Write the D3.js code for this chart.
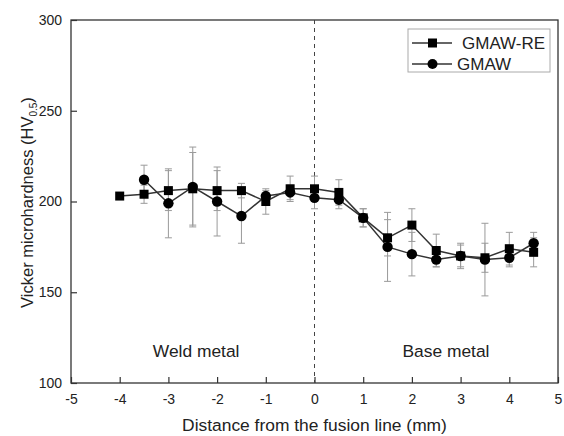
<!DOCTYPE html>
<html>
<head>
<meta charset="utf-8">
<script src="https://cdn.jsdelivr.net/npm/d3@7"></script>
<style>
  body { margin: 0; background: #fff; }
  text { font-family: "Liberation Sans", Arial, sans-serif; fill: #222; }
</style>
</head>
<body>
<div class="container"></div>
<script>
// distance from the fusion line (mm)
const distRE = [-4, -3.5, -3, -2.5, -2, -1.5, -1, -0.5, 0, 0.5, 1, 1.5, 2, 2.5, 3, 3.5, 4, 4.5];
const hvRE   = [203, 204, 206, 207, 206, 206, 200, 207, 207, 205, 191, 180, 187, 173, 170, 169, 174, 172];
const errRE  = [0, 5, 11, 20, 11, 4, 7, 7, 7, 7, 5, 10, 9, 9, 7, 8, 9, 8];

const distG = [-3.5, -3, -2.5, -2, -1.5, -1, -0.5, 0, 0.5, 1, 1.5, 2, 2.5, 3, 3.5, 4, 4.5];
const hvG   = [212, 199, 208, 200, 192, 203, 205, 202, 201, 191, 175, 171, 168, 170, 168, 169, 177];
const errG  = [8, 19, 22, 19, 15, 3, 4, 6, 5, 5, 19, 12, 4, 6, 20, 5, 6];

const xTicks = [-5, -4, -3, -2, -1, 0, 1, 2, 3, 4, 5];
const yTicks = [100, 150, 200, 250, 300];
const seriesNames = ["GMAW-RE", "GMAW"];
const regionLabels = ["Weld metal", "Base metal"];
const regionPos = [-2.43, 2.7];

const width = 564, height = 436;
const margin = { top: 20, right: 6, bottom: 53, left: 71 };

const svg = d3.select(".container").append("svg")
  .attr("width", width)
  .attr("height", height);

const x = d3.scaleLinear().domain([-5, 5]).range([margin.left, width - margin.right]);
const y = d3.scaleLinear().domain([100, 300]).range([height - margin.bottom, margin.top]);

const axisColor = "#333";
const hyphen = d => String(d); // plain hyphen-minus like the original

// frame
svg.append("rect")
  .attr("x", x(-5)).attr("y", y(300))
  .attr("width", x(5) - x(-5)).attr("height", y(100) - y(300))
  .attr("fill", "none").attr("stroke", axisColor).attr("stroke-width", 1.3);

// x axis, ticks point inward
const gx = svg.append("g")
  .attr("transform", `translate(0,${y(100)})`)
  .call(d3.axisBottom(x).tickValues(xTicks).tickSize(-6).tickSizeOuter(0).tickPadding(11).tickFormat(hyphen));
gx.select(".domain").remove();
gx.selectAll("line").attr("stroke", axisColor).attr("stroke-width", 1.2);
gx.selectAll("text").attr("font-size", 14).attr("fill", "#222")
  .attr("font-family", "Liberation Sans, Arial, sans-serif");

// y axis
const gy = svg.append("g")
  .attr("transform", `translate(${x(-5)},0)`)
  .call(d3.axisLeft(y).tickValues(yTicks).tickSize(-6).tickSizeOuter(0).tickPadding(9).tickFormat(hyphen));
gy.select(".domain").remove();
gy.selectAll("line").attr("stroke", axisColor).attr("stroke-width", 1.2);
gy.selectAll("text").attr("font-size", 14).attr("fill", "#222")
  .attr("font-family", "Liberation Sans, Arial, sans-serif");

// axis titles
svg.append("text")
  .attr("x", x(0)).attr("y", 431)
  .attr("text-anchor", "middle").attr("font-size", 17.4)
  .text("Distance from the fusion line (mm)");

const yt = svg.append("text")
  .attr("transform", `translate(33,${y(200) + 1}) rotate(-90)`)
  .attr("text-anchor", "middle").attr("font-size", 16.5);
yt.append("tspan").text("Vicker microhardness (HV");
yt.append("tspan").attr("font-size", 10).attr("dy", 4).text("0.5");
yt.append("tspan").attr("dy", -4).text(")");

// fusion line
svg.append("line")
  .attr("x1", x(0)).attr("x2", x(0))
  .attr("y1", y(300)).attr("y2", y(100))
  .attr("stroke", "#444").attr("stroke-width", 1).attr("stroke-dasharray", "4,4");

// region labels
svg.selectAll(".region")
  .data(regionLabels)
  .enter().append("text")
  .attr("x", (d, i) => x(regionPos[i]))
  .attr("y", y(114.3))
  .attr("text-anchor", "middle").attr("font-size", 17.4)
  .text(d => d);

const reData = distRE.map((d, i) => ({ x: d, v: hvRE[i], e: errRE[i] }));
const gData = distG.map((d, i) => ({ x: d, v: hvG[i], e: errG[i] }));

// error bars
function errorBars(data) {
  const g = svg.append("g").attr("stroke", "#9a9a9a").attr("stroke-width", 1);
  data.filter(d => d.e > 0).forEach(d => {
    g.append("line").attr("x1", x(d.x)).attr("x2", x(d.x)).attr("y1", y(d.v - d.e)).attr("y2", y(d.v + d.e));
    [d.v - d.e, d.v + d.e].forEach(c => {
      g.append("line").attr("x1", x(d.x) - 3.5).attr("x2", x(d.x) + 3.5).attr("y1", y(c)).attr("y2", y(c));
    });
  });
}
errorBars(reData);
errorBars(gData);

const line = d3.line().x(d => x(d.x)).y(d => y(d.v));
[reData, gData].forEach(data => {
  svg.append("path").datum(data)
    .attr("fill", "none").attr("stroke", "#333").attr("stroke-width", 1.5)
    .attr("d", line);
});

// markers
svg.append("g").selectAll("rect")
  .data(reData).enter().append("rect")
  .attr("x", d => x(d.x) - 4.5).attr("y", d => y(d.v) - 4.5)
  .attr("width", 9).attr("height", 9).attr("fill", "#000");

svg.append("g").selectAll("circle")
  .data(gData).enter().append("circle")
  .attr("cx", d => x(d.x)).attr("cy", d => y(d.v))
  .attr("r", 5.2).attr("fill", "#000");

// legend
const leg = svg.append("g").attr("transform", "translate(408,29)");
leg.append("rect").attr("width", 142).attr("height", 43)
  .attr("fill", "#fff").attr("stroke", "#aaa").attr("stroke-width", 1);
const legRows = leg.selectAll(".row").data(seriesNames).enter().append("g")
  .attr("transform", (d, i) => `translate(0,${i === 0 ? 14 : 35})`);
legRows.append("line").attr("x1", 4).attr("x2", 44).attr("stroke", "#333").attr("stroke-width", 1.5);
legRows.filter((d, i) => i === 0).append("rect")
  .attr("x", 20).attr("y", -4.5).attr("width", 9).attr("height", 9).attr("fill", "#000");
legRows.filter((d, i) => i === 1).append("circle")
  .attr("cx", 24.5).attr("r", 5).attr("fill", "#000");
legRows.append("text")
  .attr("x", (d, i) => i === 0 ? 54 : 49).attr("dy", "0.36em")
  .attr("font-size", 17).text(d => d);
</script>
</body>
</html>
